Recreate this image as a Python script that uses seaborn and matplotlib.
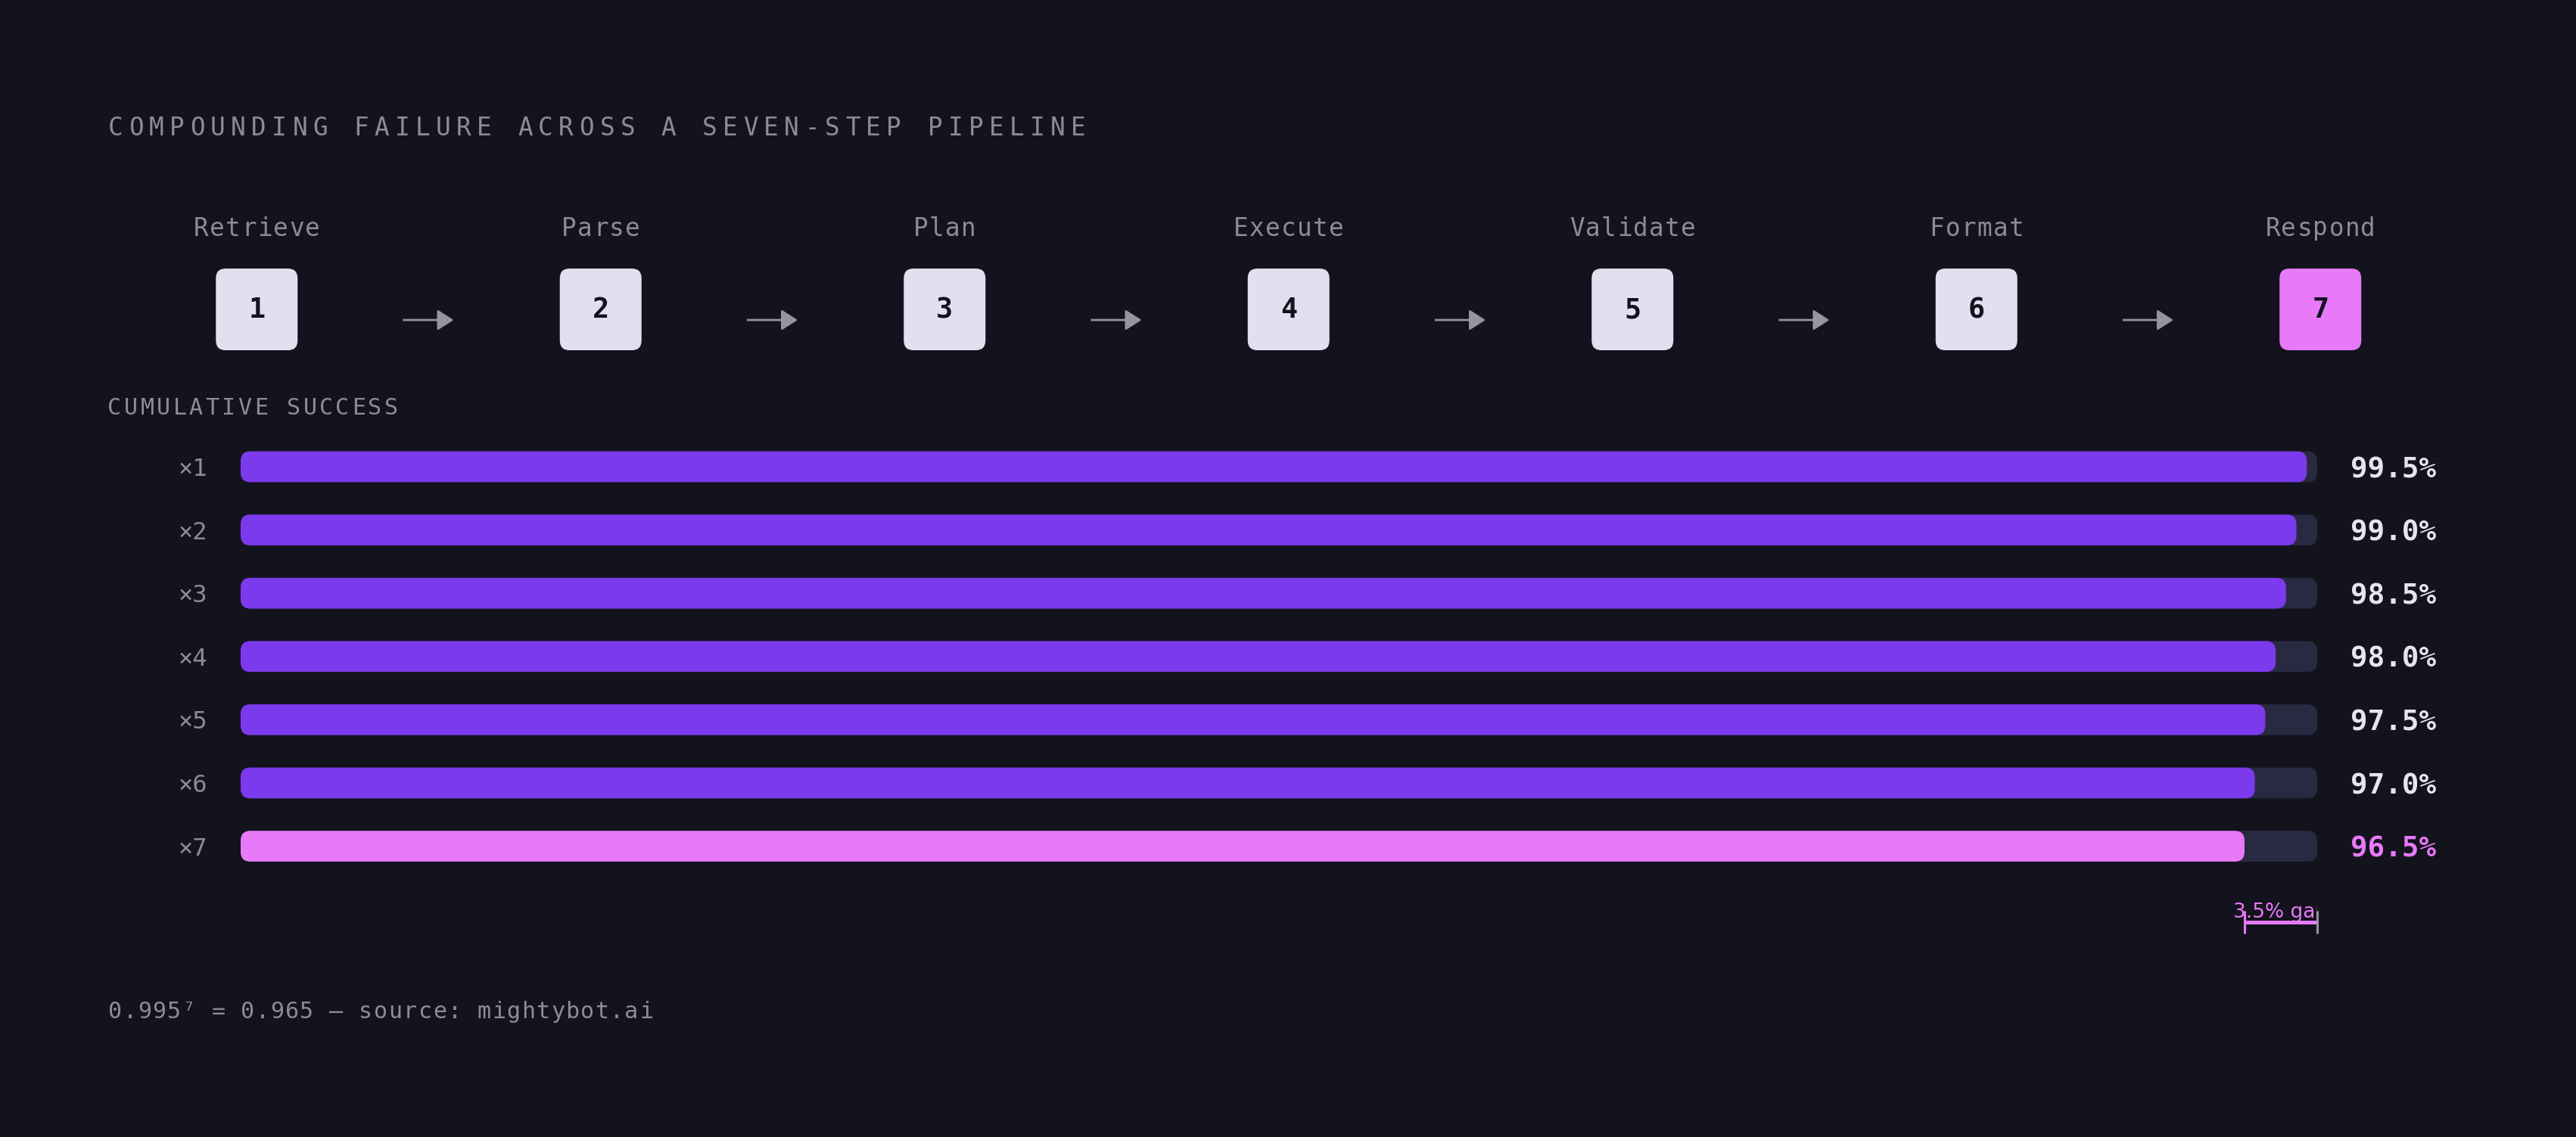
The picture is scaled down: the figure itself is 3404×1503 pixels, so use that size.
import numpy as np
import pandas as pd
import matplotlib
matplotlib.use('Agg')
import matplotlib.pyplot as plt
import seaborn as sns
from matplotlib.patches import FancyBboxPatch

## --- dados do grafico
steps = ['Retrieve', 'Parse', 'Plan', 'Execute', 'Validate', 'Format', 'Respond']
step_numbers = ['1', '2', '3', '4', '5', '6', '7']
multipliers = ['×1', '×2', '×3', '×4', '×5', '×6', '×7']
success = [99.5, 99.0, 98.5, 98.0, 97.5, 97.0, 96.5]
value_labels = ['99.5%', '99.0%', '98.5%', '98.0%', '97.5%', '97.0%', '96.5%']
full_scale = [100, 100, 100, 100, 100, 100, 100]
gap_label = '3.5% gap'
title = 'COMPOUNDING FAILURE ACROSS A SEVEN-STEP PIPELINE'
section = 'CUMULATIVE SUCCESS'
footer = '0.995⁷ = 0.965 — source: mightybot.ai'

## --- cores
BG = '#13131d'
GREY = '#8d8b9a'
ARROW = '#9694a3'
BOX = '#e1dff0'
TRACK = '#2a2942'
VIOLET = '#7c3aed'
PINK = '#e879f9'
WHITE = '#e6e4f2'
MONO = ['DejaVu Sans Mono', 'DejaVu Sans']

W, H = 3405, 1503

sns.set_theme(style='white')
plt.rcParams['font.family'] = MONO

fig = plt.figure(figsize=(W / 100, H / 100), dpi=100, facecolor=BG)


def px_axes(left, top, right, bottom):
    return fig.add_axes([left / W, 1 - bottom / H, (right - left) / W, (bottom - top) / H])


# texto com espacamento entre letras (fonte mono, uma letra de cada vez)
def spaced(c0, y, s, size, pitch, color, weight='normal'):
    for i, ch in enumerate(s):
        if ch == ' ':
            continue
        fig.text((c0 + i * pitch) / W, 1 - y / H, ch, ha='center', va='baseline',
                 fontsize=size, color=color, fontweight=weight, family=MONO)


## --- titulo
spaced(152.5, 179, title, 23.5, 27.07, GREY)

## --- pipeline (caixas + setas)
pa = px_axes(112, 250, 3293.5, 480)
pa.set_xlim(-0.5, 6.5)
pa.set_ylim(480, 250)
pa.set_axis_off()
pa.set_facecolor(BG)

step_x = np.arange(len(steps))
x_per_px = 1 / 454.5
box_half = 54 * x_per_px
for i, (nome, num) in enumerate(zip(steps, step_numbers)):
    cor = PINK if i == len(steps) - 1 else BOX
    pa.add_patch(FancyBboxPatch((step_x[i] - box_half, 355), 2 * box_half, 108,
                                boxstyle=f'round,pad=0,rounding_size={13 * x_per_px}',
                                mutation_aspect=1 / x_per_px, fc=cor, ec='none'))
    pa.text(step_x[i], 406, num, ha='center', va='center_baseline', fontsize=26.5,
            fontweight='bold', color=BG, family=MONO)
    # rotulo do passo
    cx = 112 + (step_x[i] + 0.5) * 454.5
    pitch = 21
    spaced(cx - (len(nome) - 1) * pitch / 2, 311.5, nome, 23.5, pitch, GREY)
    if i < len(steps) - 1:
        meio = step_x[i] + 0.5
        pa.annotate('', xy=(meio + 33 * x_per_px, 423), xytext=(meio - 33 * x_per_px, 423),
                    arrowprops=dict(arrowstyle='-|>,head_length=1.3,head_width=0.83',
                                    mutation_scale=10, color=ARROW, lw=2,
                                    shrinkA=0, shrinkB=0))

## --- secao de barras
spaced(151.5, 548, section, 21.6, 21.5, GREY)

row_px = 83.6
ax = px_axes(318, 617 - 0.5 * row_px, 3062, 617 + 7.5 * row_px)
ax.set_facecolor(BG)

df = pd.DataFrame({'mult': multipliers, 'success': success, 'track': full_scale})
bar_colors = [VIOLET] * (len(df) - 1) + [PINK]

sns.barplot(data=df, x='track', y='mult', color=TRACK, width=0.487, saturation=1, ax=ax)
sns.barplot(data=df, x='success', y='mult', hue='mult', palette=bar_colors, width=0.487,
            saturation=1, dodge=False, legend=False, ax=ax)

# trocando os retangulos por cantos arredondados
xu = 100 / (3062 - 318)
yu = 1 / row_px
for p in list(ax.patches):
    x0, y0, w, h = p.get_x(), p.get_y(), p.get_width(), p.get_height()
    fc = p.get_facecolor()
    p.remove()
    ax.add_patch(FancyBboxPatch((x0, y0), w, h,
                                boxstyle=f'round,pad=0,rounding_size={13 * xu}',
                                mutation_aspect=yu / xu, fc=fc, ec='none'))

ax.set_xlim(0, 100)
ax.set_ylim(7.5, -0.5)
ax.set_axis_off()

for i in range(len(df)):
    ax.text(-1.6, i, multipliers[i], ha='right', va='center_baseline', fontsize=23,
            color=GREY, family=MONO)
    cor = PINK if i == len(df) - 1 else WHITE
    ax.text(101.6, i, value_labels[i], ha='left', va='center_baseline', fontsize=27,
            fontweight='bold', color=cor, family=MONO)

# marcador do gap
ultimo = success[-1]
ax.hlines(7.198, ultimo, 100, color=PINK, lw=3.6, clip_on=False)
ax.vlines(ultimo, 7.018, 7.377, color=PINK, lw=2.2, clip_on=False)
ax.vlines(100, 7.018, 7.377, color=ARROW, lw=2.2, clip_on=False)
t = ax.text((ultimo + 100) / 2, 7.126, gap_label, ha='center', va='baseline', fontsize=19,
            color=PINK, family='DejaVu Sans', clip_on=True)
t.set_clip_box(ax.bbox)

## --- rodape
spaced(152, 1346, footer, 21.6, 19.5, GREY)

fig.savefig('out.png', dpi=100, facecolor=BG)
